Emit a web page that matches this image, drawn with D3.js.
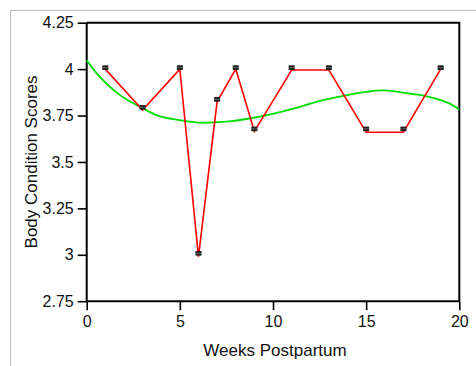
<!DOCTYPE html>
<html>
<head>
<meta charset="utf-8">
<script src="https://cdn.jsdelivr.net/npm/d3@7"></script>
<style>
  html, body { margin: 0; padding: 0; background: #fff; }
  svg { display: block; }
  text { font-family: "Liberation Sans", Arial, sans-serif; fill: #111; }
</style>
</head>
<body>
<svg id="chart" width="476" height="366"></svg>
<script>
// ---- data ----
const weeks = [1, 3, 5, 6, 7, 8, 9, 11, 13, 15, 17, 19];
const lineScores = [4.0, 3.78, 4.0, 2.99, 3.825, 4.0, 3.665, 3.995, 3.995, 3.66, 3.66, 4.0];
const markerScores = [4.008, 3.794, 4.008, 3.008, 3.837, 4.008, 3.678, 4.008, 4.008, 3.678, 3.678, 4.008];
const trendWeeks = [0, 0.54, 1.79, 3.04, 3.75, 5.0, 6.25, 7.5, 8.5, 9.8, 11.2, 12.48, 13.91, 15.0, 15.52, 16.0, 16.42, 16.95, 17.49, 18.2, 18.74, 19.4, 20];
const trendScores = [4.047, 3.977, 3.86, 3.788, 3.752, 3.725, 3.711, 3.717, 3.73, 3.755, 3.79, 3.828, 3.859, 3.877, 3.884, 3.885, 3.882, 3.873, 3.866, 3.855, 3.841, 3.818, 3.783];
const xTicks = [0, 5, 10, 15, 20];
const yTicks = [2.75, 3, 3.25, 3.5, 3.75, 4, 4.25];
const xTitle = "Weeks Postpartum";
const yTitle = "Body Condition Scores";

// ---- layout ----
const svg = d3.select("#chart");
const pLeft = 86.7, pRight = 459.3, pTop = 22.7, pBottom = 301.2;
const x = d3.scaleLinear().domain([0, 20]).range([pLeft, pRight]);
const y = d3.scaleLinear().domain([2.75, 4.25]).range([pBottom, pTop]);

// outer gray frame
svg.append("path")
  .attr("d", `M10.5,366 V10.5 H476`)
  .attr("fill", "none").attr("stroke", "#bdbdbd").attr("stroke-width", 1);

// box (top & right)
svg.append("path")
  .attr("d", `M${pLeft},${pTop} H${pRight} V${pBottom}`)
  .attr("fill", "none").attr("stroke", "#000").attr("stroke-width", 2);

// axes
const xAxis = svg.append("g").attr("transform", `translate(0,${pBottom})`)
  .call(d3.axisBottom(x).tickValues(xTicks).tickFormat(d3.format("d")).tickSize(9).tickPadding(5));
const yAxis = svg.append("g").attr("transform", `translate(${pLeft},0)`)
  .call(d3.axisLeft(y).tickValues(yTicks).tickFormat(d => String(d)).tickSize(9).tickPadding(4));
[xAxis, yAxis].forEach(g => {
  g.select(".domain").attr("stroke", "#000").attr("stroke-width", 2);
  g.selectAll(".tick line").attr("stroke", "#000").attr("stroke-width", 1.6);
  g.selectAll(".tick text").attr("fill", "#111").style("font-size", "16px")
    .style("font-family", '"Liberation Sans", Arial, sans-serif');
});
yAxis.select(".domain").attr("d", `M0,${pTop}V${pBottom}`);
xAxis.select(".domain").attr("d", `M${pLeft},0H${pRight}`);

// titles
svg.append("text").attr("x", (pLeft + pRight) / 2 + 2).attr("y", 356)
  .attr("text-anchor", "middle").style("font-size", "17px").text(xTitle);
svg.append("text").attr("transform", `translate(37,${(pTop + pBottom) / 2}) rotate(-90)`)
  .attr("text-anchor", "middle").style("font-size", "17px").text(yTitle);

// trend line (green)
svg.append("path")
  .datum(trendWeeks.map((w, i) => [w, trendScores[i]]))
  .attr("fill", "none").attr("stroke", "#00dd00").attr("stroke-width", 1.8)
  .attr("d", d3.line().x(d => x(d[0])).y(d => y(d[1])).curve(d3.curveMonotoneX));

// red line
svg.append("path")
  .datum(weeks.map((w, i) => [w, lineScores[i]]))
  .attr("fill", "none").attr("stroke", "#ff0000").attr("stroke-width", 1.6)
  .attr("d", d3.line().x(d => x(d[0])).y(d => y(d[1])));

// markers (error-bar caps)
const mk = svg.append("g");
weeks.forEach((w, i) => {
  const cx = x(w), cy = y(markerScores[i]);
  mk.append("rect").attr("x", cx - 3).attr("y", cy - 2.3).attr("width", 6).attr("height", 4.6)
    .attr("fill", "#1a1a1a");
  mk.append("line").attr("x1", cx - 3).attr("x2", cx + 3).attr("y1", cy).attr("y2", cy)
    .attr("stroke", "#777").attr("stroke-width", 0.8);
});
</script>
</body>
</html>
